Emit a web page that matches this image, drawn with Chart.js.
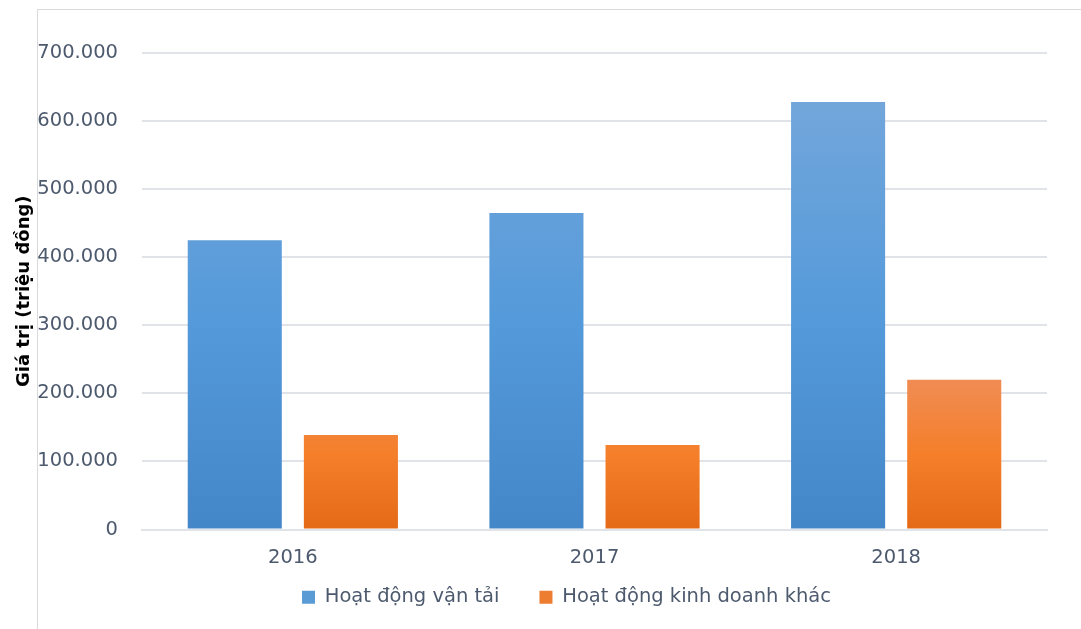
<!DOCTYPE html>
<html>
<head>
<meta charset="utf-8">
<script src="https://cdn.jsdelivr.net/npm/chart.js@4.4.1/dist/chart.umd.min.js"></script>
<style>
  html, body { margin: 0; padding: 0; background: #fff; }
  #wrap { position: relative; width: 1081px; height: 629px; overflow: hidden; }
  #frame { position: absolute; left: 37px; top: 9px; width: 1100px; height: 700px; border: 1px solid #d9d9d9; box-sizing: border-box; }
  canvas { position: absolute; left: 0; top: 0; }
</style>
</head>
<body>
<div id="wrap">
  <div id="frame"></div>
  <canvas id="c" width="1081" height="629"></canvas>
</div>
<script>
const categories = ['2016', '2017', '2018'];
const seriesNames = ['Hoạt động vận tải', 'Hoạt động kinh doanh khác'];
const transportValues = [425000, 465000, 628000];
const otherValues = [139000, 124000, 220000];
const yTicks = [0, 100000, 200000, 300000, 400000, 500000, 600000, 700000];

const gradStops = [
  ['#72a6db', '#559ada', '#4387c8'],
  ['#f08c54', '#f57f2a', '#e56a17']
];
const textColor = '#4d5a6e';
const gridColor = '#e0e3e8';
const FONT = "'DejaVu Sans', sans-serif";

function fmt(v) {
  return v.toLocaleString('de-DE');
}

const gradientPlugin = {
  id: 'barGradient',
  afterLayout(chart) {
    const lg = chart.legend;
    if (lg) {
      lg.top -= 28; lg.bottom -= 28;
      lg.left += 43; lg.right += 43;
    }
  },
  beforeDatasetDraw(chart, args) {
    const ctx = chart.ctx;
    const meta = chart.getDatasetMeta(args.index);
    const stops = gradStops[args.index];
    meta.data.forEach(el => {
      const g = ctx.createLinearGradient(0, el.y, 0, el.base);
      g.addColorStop(0, stops[0]);
      g.addColorStop(0.5, stops[1]);
      g.addColorStop(1, stops[2]);
      el.options.backgroundColor = g;
    });
  }
};

new Chart(document.getElementById('c'), {
  type: 'bar',
  data: {
    labels: categories,
    datasets: [
      { label: seriesNames[0], data: transportValues, backgroundColor: '#5b9bd5' },
      { label: seriesNames[1], data: otherValues, backgroundColor: '#ed7d31' }
    ]
  },
  plugins: [gradientPlugin],
  options: {
    responsive: false,
    animation: false,
    events: [],
    layout: { padding: { top: 53, left: 0, right: 34, bottom: -16 } },
    datasets: { bar: { categoryPercentage: 0.77, barPercentage: 0.81 } },
    scales: {
      x: {
        grid: { display: false },
        border: { display: true, color: gridColor, width: 2 },
        ticks: { color: textColor, font: { family: FONT, size: 19.5 }, padding: 9 },
        afterFit(s) { s.height = 46; }
      },
      y: {
        min: 0, max: 700000,
        afterBuildTicks(s) { s.ticks = yTicks.map(v => ({ value: v })); },
        grid: { color: gridColor, lineWidth: 2, drawTicks: false },
        border: { display: false },
        ticks: { color: textColor, font: { family: FONT, size: 19.5 }, padding: 24, callback: v => fmt(v) },
        title: { display: true, text: 'Giá trị (triệu đồng)', color: '#000', font: { family: FONT, size: 18, weight: 'bold' }, padding: { top: 14, bottom: 4 } },
        afterFit(s) { s.width = 142; }
      }
    },
    plugins: {
      legend: {
        position: 'bottom',
        labels: { color: textColor, font: { family: FONT, size: 19.5 }, boxWidth: 13, boxHeight: 13, padding: 40 }
      },
      tooltip: { enabled: false }
    }
  }
});
</script>
</body>
</html>
